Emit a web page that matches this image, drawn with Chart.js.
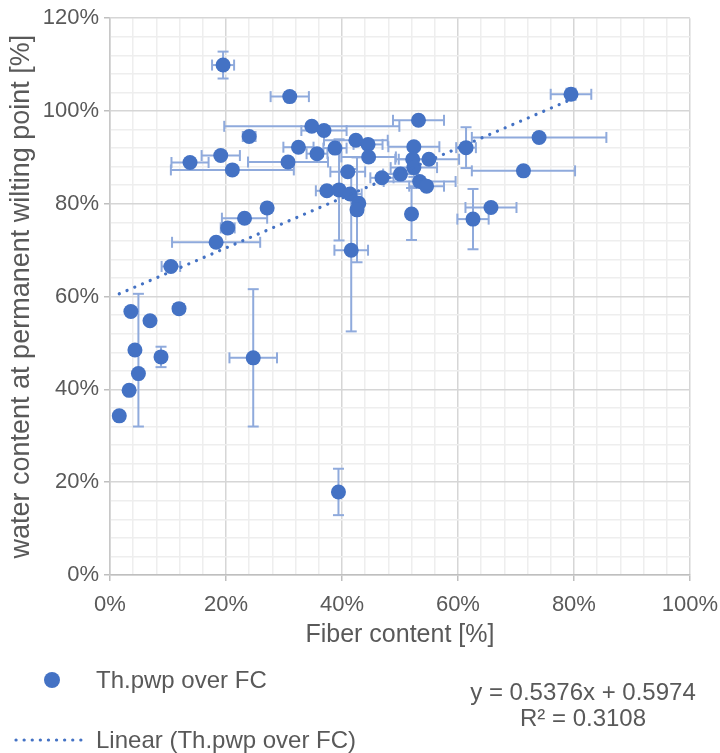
<!DOCTYPE html>
<html>
<head>
<meta charset="utf-8">
<script src="https://cdn.jsdelivr.net/npm/chart.js@4.4.1/dist/chart.umd.min.js"></script>
<style>
  html, body { margin: 0; padding: 0; background: #fff; overflow: hidden; }
  #wrap { position: relative; width: 720px; height: 753px; overflow: hidden; font-family: "Liberation Sans", Arial, sans-serif; color: #595959; }
  #c { position: absolute; left: 0; top: 0; }
  .txt { position: absolute; white-space: nowrap; font-size: 24px; line-height: 28px; }
  .mark { position: absolute; width: 16px; height: 16px; border-radius: 50%; background: #4472C4; }
  svg { position: absolute; }
</style>
</head>
<body>
<div id="wrap">
  <canvas id="c" width="729" height="753"></canvas>
  <div class="mark" style="left:44px; top:672px;"></div>
  <div class="txt" id="legPoints" style="left:96px; top:666px;"></div>
  <svg width="80" height="10" style="left:12px; top:735px;">
    <line x1="4" y1="5" x2="76" y2="5" stroke="#4472C4" stroke-width="3.2" stroke-linecap="round" stroke-dasharray="0.1 8"></line>
  </svg>
  <div class="txt" id="legTrend" style="left:96px; top:726px;"></div>
  <div class="txt" id="eqLine" style="left:583px; top:678px; transform:translateX(-50%);"></div>
  <div class="txt" id="r2Line" style="left:583px; top:704px; transform:translateX(-50%);"></div>
</div>
<script>
// Fiber content [%] and water content at permanent wilting point [%] per sample
const fiberContent = [
  19.5, 31.0, 24.0, 34.8, 36.9, 53.2, 42.4, 44.5, 19.1, 13.8,
  21.1, 32.5, 30.7, 35.7, 38.8, 44.6, 52.4, 52.2, 52.4, 55.0,
  53.4, 54.6, 50.1, 46.9, 41.0, 37.4, 39.5, 41.4, 42.9, 42.6,
  41.6, 52.0, 61.4, 79.5, 74.0, 71.3, 65.7, 62.6, 27.1, 23.2,
  20.3, 18.3, 10.5, 3.6, 6.9, 11.9, 4.3, 8.8, 4.9, 3.3,
  1.6, 24.7, 39.4
];
const waterContentPwp = [
  109.9, 103.1, 94.5, 96.7, 95.8, 98.0, 93.7, 92.8, 90.4, 88.9,
  87.3, 92.2, 89.0, 90.8, 92.0, 90.1, 92.3, 89.6, 87.8, 89.6,
  84.8, 83.8, 86.4, 85.6, 86.9, 82.8, 83.0, 82.1, 80.1, 78.7,
  70.0, 77.8, 92.1, 103.6, 94.3, 87.1, 79.2, 76.7, 79.1, 76.9,
  74.8, 71.7, 66.5, 56.8, 54.8, 57.4, 48.5, 47.0, 43.4, 39.8,
  34.3, 46.8, 17.9
];
// Horizontal error (±, fiber content)
const fiberError = [
  1.9, 3.3, 1.1, 15.1, 3.9, 4.4, 5.5, 2.5, 3.3, 3.2,
  10.6, 2.6, 6.9, 1.8, 2.0, 4.7, 4.4, 3.0, 4.0, 5.2,
  6.2, 3.0, 3.0, 2.0, 3.0, 1.9, 0, 2.0, 0, 0,
  2.9, 0, 1.7, 3.5, 11.6, 8.9, 4.4, 2.7, 0.8, 3.9,
  1.2, 7.6, 1.6, 0, 0, 0.8, 0, 0, 0, 0,
  0, 4.1, 0
];
// Vertical error (plus / minus, water content)
const waterErrorPlus = [
  2.9, 1.0, 0.8, 0, 0, 0.8, 0, 0, 0, 0,
  0, 0, 0, 0, 0, 0, 0, 0, 2.0, 0,
  0, 0, 0, 0, 0, 0, 10.9, 0, 0, 11.3,
  17.5, 5.6, 4.4, 1.2, 0, 0, 0, 6.5, 0, 0,
  0, 0, 0, 0, 0, 0, 0, 2.2, 17.2, 0,
  0, 14.8, 5.0
];
const waterErrorMinus = [
  2.9, 1.0, 0.8, 0, 0, 0.8, 0, 0, 0, 0,
  0, 0, 0, 0, 0, 0, 0, 0, 2.0, 0,
  0, 0, 0, 0, 0, 0, 10.9, 0, 0, 11.3,
  17.5, 5.6, 4.4, 1.2, 0, 0, 0, 6.5, 0, 0,
  0, 0, 0, 0, 0, 0, 0, 2.2, 11.4, 0,
  0, 14.8, 5.0
];
// Linear trend fitted over the samples (fractions)
const trendSlope = 0.5376;
const trendIntercept = 0.5974;
const trendR2 = 0.3108;

const seriesName = 'Th.pwp over FC';
const xTitle = 'Fiber content [%]';
const yTitle = 'water content at permanent wilting point [%]';

const BLUE = '#4472C4';
const TEXT = '#595959';
const FONT = '"Liberation Sans", Arial, sans-serif';

document.getElementById('legPoints').textContent = seriesName;
document.getElementById('legTrend').textContent = 'Linear (' + seriesName + ')';
document.getElementById('eqLine').textContent = 'y = ' + trendSlope.toFixed(4) + 'x + ' + trendIntercept.toFixed(4);
document.getElementById('r2Line').textContent = 'R\u00B2 = ' + trendR2.toFixed(4);

const points = fiberContent.map((fx, i) => ({ x: fx, y: waterContentPwp[i] }));
const xMin = Math.min(...fiberContent), xMax = Math.max(...fiberContent);
const trendAt = fx => (trendSlope * fx / 100 + trendIntercept) * 100;
const trendPoints = [{ x: xMin, y: trendAt(xMin) }, { x: xMax, y: trendAt(xMax) }];

// Error bars with end caps, drawn beneath the markers
const errorBars = {
  id: 'errorBars',
  beforeDatasetsDraw(chart) {
    const { ctx, scales: { x, y } } = chart;
    const cap = 5.5;
    ctx.save();
    ctx.strokeStyle = '#8FAADC';
    ctx.lineWidth = 2;
    const seg = (x1, y1, x2, y2) => { ctx.beginPath(); ctx.moveTo(x1, y1); ctx.lineTo(x2, y2); ctx.stroke(); };
    fiberContent.forEach((fx, i) => {
      const wy = waterContentPwp[i];
      const px = x.getPixelForValue(fx), py = y.getPixelForValue(wy);
      const ex = fiberError[i];
      if (ex > 0) {
        const l = x.getPixelForValue(fx - ex), r = x.getPixelForValue(fx + ex);
        seg(l, py, r, py);
        seg(l, py - cap, l, py + cap);
        seg(r, py - cap, r, py + cap);
      }
      const up = waterErrorPlus[i], dn = waterErrorMinus[i];
      if (up > 0 || dn > 0) {
        const t = y.getPixelForValue(wy + up), b = y.getPixelForValue(wy - dn);
        seg(px, t, px, b);
        if (up > 0) seg(px - cap, t, px + cap, t);
        if (dn > 0) seg(px - cap, b, px + cap, b);
      }
    });
    ctx.restore();
  }
};

const isMajor = c => c.tick && Math.round(c.tick.value) % 20 === 0;
const gridOpts = {
  color: c => isMajor(c) ? '#d6d6d6' : '#eeeeee',
  lineWidth: 1.5,
  tickColor: c => isMajor(c) ? '#bfbfbf' : 'rgba(0,0,0,0)',
  tickLength: 6,
  drawTicks: true
};

new Chart(document.getElementById('c'), {
  type: 'scatter',
  data: {
    datasets: [
      {
        type: 'line',
        label: 'Linear (' + seriesName + ')',
        data: trendPoints,
        borderColor: BLUE,
        borderWidth: 3.2,
        borderDash: [0.1, 8.3],
        borderCapStyle: 'round',
        pointRadius: 0,
        fill: false,
        order: 0
      },
      {
        label: seriesName,
        data: points,
        pointRadius: 7.5,
        pointHoverRadius: 7.5,
        pointBackgroundColor: BLUE,
        pointBorderWidth: 0,
        order: 1
      }
    ]
  },
  options: {
    responsive: false,
    animation: false,
    events: [],
    layout: { padding: { left: 0, top: 5, right: 24, bottom: 103 } },
    plugins: { legend: { display: false }, tooltip: { enabled: false } },
    scales: {
      x: {
        type: 'linear',
        min: 0, max: 100,
        afterFit: s => { s.height = 75; },
        ticks: {
          stepSize: 4, autoSkip: false, maxRotation: 0,
          padding: 11,
          color: TEXT,
          font: { family: FONT, size: 22 },
          callback: v => (Math.round(v) % 20 === 0 ? v + '%' : '')
        },
        grid: gridOpts,
        border: { color: '#bfbfbf', width: 1.5 },
        title: {
          display: true, text: xTitle, color: TEXT,
          font: { family: FONT, size: 25 },
          padding: { top: 0, bottom: 0 }
        }
      },
      y: {
        type: 'linear',
        min: 0, max: 120,
        afterFit: s => { s.width = 110; },
        ticks: {
          stepSize: 4, autoSkip: false,
          padding: 5,
          color: TEXT,
          font: { family: FONT, size: 22 },
          callback: v => (Math.round(v) % 20 === 0 ? v + '%' : '')
        },
        grid: gridOpts,
        border: { color: '#c8c8c8', width: 1.5 },
        title: {
          display: true, text: yTitle, color: TEXT,
          font: { family: FONT, size: 27 },
          padding: { top: 5, bottom: 0 }
        }
      }
    }
  },
  plugins: [errorBars]
});
</script>
</body>
</html>
